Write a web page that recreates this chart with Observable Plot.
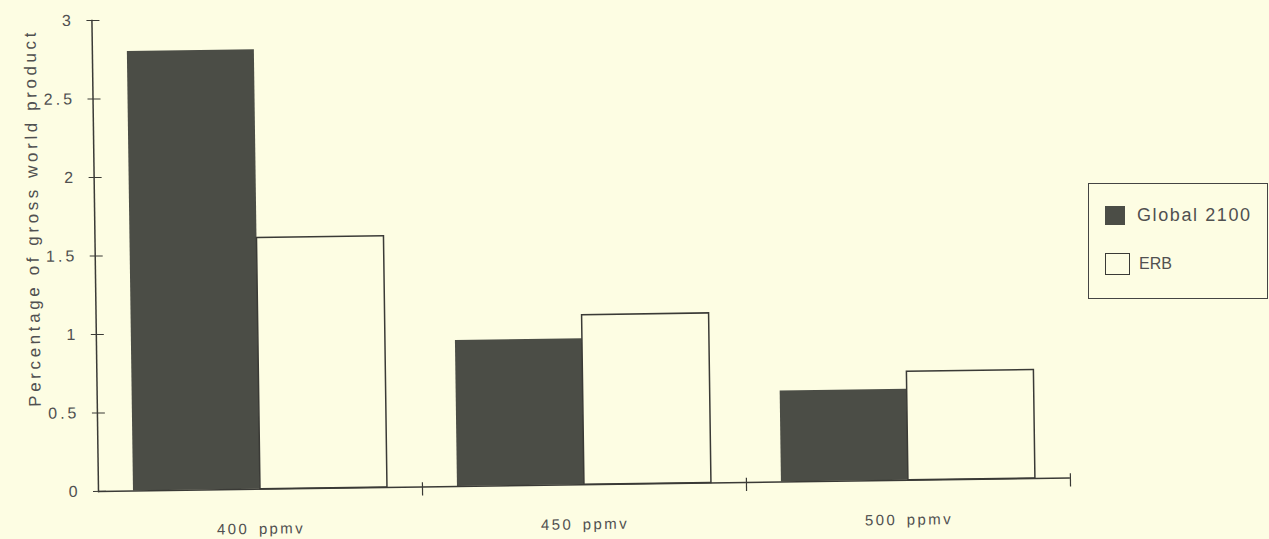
<!DOCTYPE html>
<html>
<head>
<meta charset="utf-8">
<script src="https://cdn.jsdelivr.net/npm/d3@7"></script>
<script src="https://cdn.jsdelivr.net/npm/@observablehq/plot@0.6"></script>
<style>
  html, body { margin: 0; padding: 0; background: #fdfde3; }
  body { position: relative; width: 1269px; height: 539px; overflow: hidden; font-family: "Liberation Sans", Arial, Helvetica, sans-serif; }
  #sheet { position: absolute; left: 0; top: 0; width: 1269px; height: 539px; transform: rotate(-0.8deg); transform-origin: 97px 491px; }
  #chart svg { display: block; }
  #chart svg g[aria-label="y-axis tick label"] text { letter-spacing: 3px; }
  #chart svg g[aria-label="fx-axis tick label"] text { letter-spacing: 2.4px; word-spacing: 3px; }
  #ytitle {
    position: absolute; left: 37px; top: 217px;
    transform: translate(-50%, -50%) rotate(-90deg);
    white-space: nowrap; font-size: 17px; letter-spacing: 3.6px; color: #505050;
  }
  #legend {
    position: absolute; left: 1088px; top: 183px; width: 180px; height: 116px;
    border: 1.5px solid #444; box-sizing: border-box;
  }
  .item { position: absolute; display: flex; align-items: center; color: #505050; white-space: nowrap; }
  .sw { display: inline-block; box-sizing: border-box; flex: none; }
</style>
</head>
<body>
<div id="sheet">
  <div id="chart"></div>
  <div id="ytitle"></div>
</div>
<div id="legend"></div>
<script>
// Abatement cost by CO2 concentration target, two models
const categories = ["400 ppmv", "450 ppmv", "500 ppmv"];
const series = ["Global 2100", "ERB"];
const global2100 = [2.8, 0.93, 0.58];
const erb = [1.6, 1.08, 0.69];
const yTicks = [0, 0.5, 1, 1.5, 2, 2.5, 3];
const yTitle = "Percentage of gross world product";

const dark = "#4b4d46";
const paper = "#fdfde3";
const ink = "#3a3a36";
const textInk = "#505050";

const rows = categories.flatMap((category, i) => [
  {category, series: series[0], value: global2100[i]},
  {category, series: series[1], value: erb[i]}
]);

const width = 1269, height = 539;
const marginTop = 20, marginBottom = 48, marginLeft = 97, marginRight = 199;
const plotH = height - marginTop - marginBottom;

const chart = Plot.plot({
  width, height, marginTop, marginBottom, marginLeft, marginRight,
  style: {background: "transparent", fontFamily: "Liberation Sans, Arial, sans-serif", color: textInk},
  fx: {domain: categories, padding: 0},
  x: {domain: series, paddingInner: 0, paddingOuter: 0.275, axis: null},
  y: {domain: [0, 3]},
  marks: [
    Plot.barY(rows, {filter: d => d.series === series[0], fx: "category", x: "series", y: "value", fill: dark}),
    Plot.barY(rows, {filter: d => d.series === series[1], fx: "category", x: "series", y: "value",
      fill: paper, stroke: ink, strokeWidth: 1.5}),
    Plot.ruleY([0], {stroke: ink, strokeWidth: 1.5}),
    Plot.frame({anchor: "left", facetAnchor: "left", stroke: ink, strokeWidth: 1.5}),
    // small ticks marking the end of each group on the category axis
    Plot.frame({anchor: "right", insetTop: plotH - 4, insetBottom: -8, stroke: ink, strokeWidth: 1.2}),
    Plot.axisY({ticks: yTicks, tickFormat: d => String(d), tickSize: 13, dx: 8, tickPadding: 13,
      fontSize: 16, label: null, stroke: ink, fill: textInk}),
    Plot.axisFx({anchor: "bottom", tickSize: 0, tickPadding: 34, fontSize: 15, label: null, fill: textInk})
  ]
});
document.getElementById("chart").append(chart);

document.getElementById("ytitle").textContent = yTitle;

// Legend box
const legend = document.getElementById("legend");
const items = [
  {label: series[0], top: 21, left: 16, sw: {w: 20, h: 19, bg: dark, border: "none"}, size: 18, gap: 12, ls: 1.6},
  {label: series[1], top: 69, left: 16, sw: {w: 25, h: 22, bg: paper, border: `1.5px solid ${ink}`}, size: 16, gap: 9, ls: 0}
];
for (const it of items) {
  const el = document.createElement("div");
  el.className = "item";
  el.style.top = it.top + "px";
  el.style.left = it.left + "px";
  const sw = document.createElement("span");
  sw.className = "sw";
  sw.style.width = it.sw.w + "px";
  sw.style.height = it.sw.h + "px";
  sw.style.background = it.sw.bg;
  sw.style.border = it.sw.border;
  const tx = document.createElement("span");
  tx.textContent = it.label;
  tx.style.fontSize = it.size + "px";
  tx.style.marginLeft = it.gap + "px";
  tx.style.letterSpacing = it.ls + "px";
  el.append(sw, tx);
  legend.append(el);
}
</script>
</body>
</html>
